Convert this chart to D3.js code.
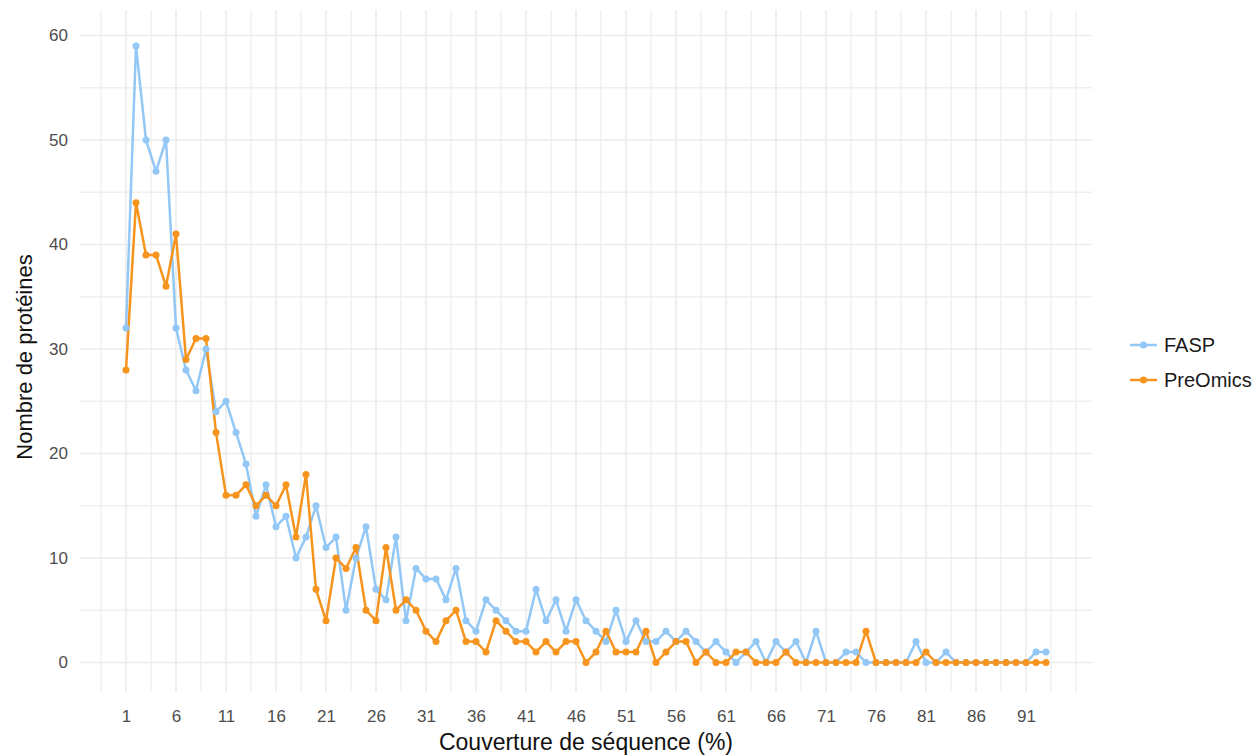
<!DOCTYPE html>
<html>
<head>
<meta charset="utf-8">
<script src="https://cdn.jsdelivr.net/npm/d3@7"></script>
<style>
  html, body { margin: 0; padding: 0; background: #ffffff; }
  svg { display: block; font-family: "Liberation Sans", Arial, sans-serif; }
</style>
</head>
<body>
<svg id="chart" width="1252" height="756"></svg>
<script>
// Sequence coverage (%) bins
const coverage = [
  1, 2, 3, 4, 5, 6, 7, 8, 9, 10, 11, 12, 13, 14, 15, 16, 17, 18, 19, 20,
  21, 22, 23, 24, 25, 26, 27, 28, 29, 30, 31, 32, 33, 34, 35, 36, 37, 38, 39, 40,
  41, 42, 43, 44, 45, 46, 47, 48, 49, 50, 51, 52, 53, 54, 55, 56, 57, 58, 59, 60,
  61, 62, 63, 64, 65, 66, 67, 68, 69, 70, 71, 72, 73, 74, 75, 76, 77, 78, 79, 80,
  81, 82, 83, 84, 85, 86, 87, 88, 89, 90, 91, 92, 93
];

// Number of proteins per coverage bin, FASP
const fasp = [
  32, 59, 50, 47, 50, 32, 28, 26, 30, 24, 25, 22, 19, 14, 17, 13, 14, 10, 12, 15,
  11, 12, 5, 10, 13, 7, 6, 12, 4, 9, 8, 8, 6, 9, 4, 3, 6, 5, 4, 3,
  3, 7, 4, 6, 3, 6, 4, 3, 2, 5, 2, 4, 2, 2, 3, 2, 3, 2, 1, 2,
  1, 0, 1, 2, 0, 2, 1, 2, 0, 3, 0, 0, 1, 1, 0, 0, 0, 0, 0, 2,
  0, 0, 1, 0, 0, 0, 0, 0, 0, 0, 0, 1, 1
];

// Number of proteins per coverage bin, PreOmics
const preomics = [
  28, 44, 39, 39, 36, 41, 29, 31, 31, 22, 16, 16, 17, 15, 16, 15, 17, 12, 18, 7,
  4, 10, 9, 11, 5, 4, 11, 5, 6, 5, 3, 2, 4, 5, 2, 2, 1, 4, 3, 2,
  2, 1, 2, 1, 2, 2, 0, 1, 3, 1, 1, 1, 3, 0, 1, 2, 2, 0, 1, 0,
  0, 1, 1, 0, 0, 0, 1, 0, 0, 0, 0, 0, 0, 0, 3, 0, 0, 0, 0, 0,
  1, 0, 0, 0, 0, 0, 0, 0, 0, 0, 0, 0, 0
];

const seriesNames = ["FASP", "PreOmics"];
const seriesColors = ["#93c8f6", "#f7941d"];

const xTicks = [1, 6, 11, 16, 21, 26, 31, 36, 41, 46, 51, 56, 61, 66, 71, 76, 81, 86, 91];
const yTicks = [0, 10, 20, 30, 40, 50, 60];

const xMinor = [-1.5, 3.5, 8.5, 13.5, 18.5, 23.5, 28.5, 33.5, 38.5, 43.5, 48.5, 53.5,
  58.5, 63.5, 68.5, 73.5, 78.5, 83.5, 88.5, 93.5, 96];
const yMinor = [5, 15, 25, 35, 45, 55];

const svg = d3.select("#chart");

const x = d3.scaleLinear().domain([1, 93]).range([126, 1046]);
const y = d3.scaleLinear().domain([0, 60]).range([662.5, 35.5]);

// panel extent (data range plus padding)
const panel = { left: 80, right: 1092, top: 10, bottom: 692 };

const grid = svg.append("g").attr("class", "grid");

// minor grid
grid.selectAll("line.vminor").data(xMinor).join("line")
  .attr("class", "vminor")
  .attr("x1", d => x(d)).attr("x2", d => x(d))
  .attr("y1", panel.top).attr("y2", panel.bottom)
  .attr("stroke", "#efefef").attr("stroke-width", 1.3);
grid.selectAll("line.hminor").data(yMinor).join("line")
  .attr("class", "hminor")
  .attr("x1", panel.left).attr("x2", panel.right)
  .attr("y1", d => y(d)).attr("y2", d => y(d))
  .attr("stroke", "#efefef").attr("stroke-width", 1.3);

// major grid
grid.selectAll("line.vmajor").data(xTicks).join("line")
  .attr("class", "vmajor")
  .attr("x1", d => x(d)).attr("x2", d => x(d))
  .attr("y1", panel.top).attr("y2", panel.bottom)
  .attr("stroke", "#ebebeb").attr("stroke-width", 1.6);
grid.selectAll("line.hmajor").data(yTicks).join("line")
  .attr("class", "hmajor")
  .attr("x1", panel.left).attr("x2", panel.right)
  .attr("y1", d => y(d)).attr("y2", d => y(d))
  .attr("stroke", "#ebebeb").attr("stroke-width", 1.6);

// axes (labels only, no domain line or tick marks)
const xAxis = svg.append("g")
  .attr("transform", `translate(0,${panel.bottom})`)
  .call(d3.axisBottom(x).tickValues(xTicks).tickSize(0).tickPadding(0));
xAxis.select(".domain").remove();
xAxis.selectAll("text")
  .attr("y", 30).attr("dy", 0)
  .attr("font-size", 17).attr("fill", "#4d4d4d")
  .style("font-family", "Liberation Sans, Arial, sans-serif");

const yAxis = svg.append("g")
  .attr("transform", `translate(68,0)`)
  .call(d3.axisLeft(y).tickValues(yTicks).tickSize(0).tickPadding(0));
yAxis.select(".domain").remove();
yAxis.selectAll("text")
  .attr("x", 0)
  .attr("font-size", 17).attr("fill", "#4d4d4d")
  .style("font-family", "Liberation Sans, Arial, sans-serif");

// axis titles
svg.append("text")
  .attr("x", 586).attr("y", 750)
  .attr("text-anchor", "middle")
  .attr("font-size", 23).attr("fill", "#111")
  .text("Couverture de séquence (%)");

svg.append("text")
  .attr("transform", "translate(32,357) rotate(-90)")
  .attr("text-anchor", "middle")
  .attr("font-size", 22).attr("fill", "#111")
  .text("Nombre de protéines");

// series
const series = [fasp, preomics].map((vals, i) => ({
  name: seriesNames[i],
  color: seriesColors[i],
  points: coverage.map((c, j) => ({ c, v: vals[j] }))
}));

const line = d3.line().x(d => x(d.c)).y(d => y(d.v));

const plot = svg.append("g");
plot.selectAll("path.series").data(series).join("path")
  .attr("class", "series")
  .attr("d", d => line(d.points))
  .attr("fill", "none")
  .attr("stroke", d => d.color)
  .attr("stroke-width", 2.5)
  .attr("stroke-linejoin", "round");

series.forEach(s => {
  plot.append("g").selectAll("circle").data(s.points).join("circle")
    .attr("cx", d => x(d.c)).attr("cy", d => y(d.v))
    .attr("r", 3.5)
    .attr("fill", s.color);
});

// legend
const legend = svg.append("g");
const legendY = [345, 380];
series.forEach((s, i) => {
  const g = legend.append("g").attr("transform", `translate(0,${legendY[i]})`);
  g.append("line")
    .attr("x1", 1130).attr("x2", 1157).attr("y1", 0).attr("y2", 0)
    .attr("stroke", s.color).attr("stroke-width", 2.5);
  g.append("circle").attr("cx", 1143.5).attr("cy", 0).attr("r", 3.5).attr("fill", s.color);
  g.append("text")
    .attr("x", 1164).attr("y", 7)
    .attr("font-size", 20).attr("fill", "#1a1a1a")
    .text(s.name);
});
</script>
</body>
</html>
